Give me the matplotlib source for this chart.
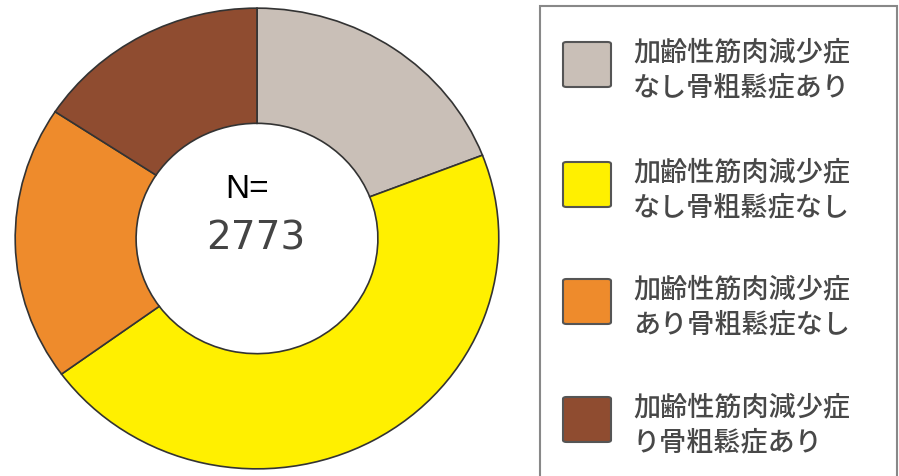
import matplotlib.pyplot as plt
from matplotlib.patches import FancyBboxPatch, Rectangle

# group sizes (N = 2773)
counts = [530, 1272, 535, 436]
colors = ['#C9BFB7', '#FFF000', '#EE8B2C', '#8F4C30']
labels = [
    ['加齢性筋肉減少症', 'なし骨粗鬆症あり'],
    ['加齢性筋肉減少症', 'なし骨粗鬆症なし'],
    ['加齢性筋肉減少症', 'あり骨粗鬆症なし'],
    ['加齢性筋肉減少症', 'り骨粗鬆症あり'],
]
total_label = '2773'

W, H = 899, 476
fig = plt.figure(figsize=(W / 100, H / 100), dpi=100)


def fx(x):
    return x / W


def fy(y):
    return 1 - y / H


# donut
ax = fig.add_axes([fx(14), fy(470), (500 - 14) / W, (470 - 7) / H])
ax.pie(counts, colors=colors, startangle=90, counterclock=False,
       radius=1, wedgeprops=dict(width=0.5, edgecolor='#333333', linewidth=1.2))
ax.set_aspect('auto')
ax.set_xlim(-1.005, 1.005)
ax.set_ylim(-1.005, 1.005)
ax.axis('off')

fig.text(fx(247), fy(190), 'N=', fontsize=24, family='Liberation Sans',
         color='black', ha='center', va='center')
fig.text(fx(256), fy(239), total_label, fontsize=28, family='DejaVu Sans',
         color='#444444', ha='center', va='center')

# legend frame
fig.patches.append(Rectangle((fx(540), fy(490)), fx(897) - fx(540), fy(6) - fy(490),
                             transform=fig.transFigure, facecolor='none',
                             edgecolor='#888888', linewidth=1.5))

item_top = [42, 162, 279, 397]
for top, col, lab in zip(item_top, colors, labels):
    fig.patches.append(FancyBboxPatch((fx(563), fy(top + 45)), 48 / W, 45 / H,
                                      boxstyle='round,pad=0,rounding_size=0.004',
                                      transform=fig.transFigure, facecolor=col,
                                      edgecolor='#555555', linewidth=1.5))
    fig.text(fx(633), fy(top + 11), lab[0], fontsize=19.5,
             family=['Noto Sans CJK JP', 'DejaVu Sans'], weight='medium',
             color='#484848', ha='left', va='center')
    fig.text(fx(633), fy(top + 46), lab[1], fontsize=19.5,
             family=['Noto Sans CJK JP', 'DejaVu Sans'], weight='medium',
             color='#484848', ha='left', va='center')

fig.savefig('out.png', dpi=100)
